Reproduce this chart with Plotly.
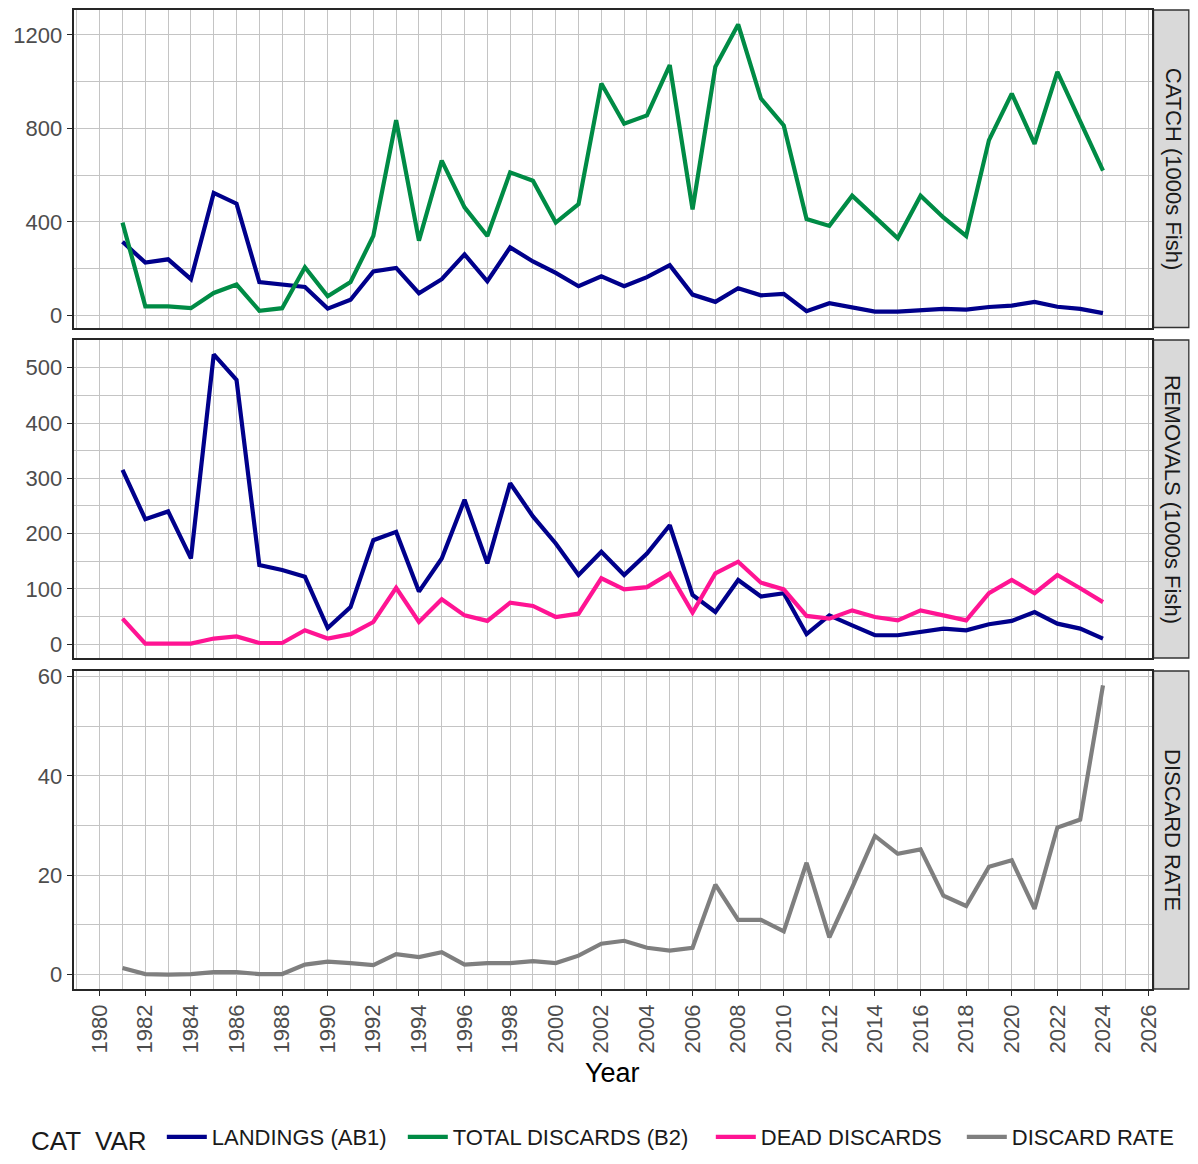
import plotly.graph_objects as go

years = list(range(1981, 2025))

landings = [315, 226, 240, 155, 524, 478, 143, 134, 122, 29, 67, 188, 203,
            95, 155, 261, 146, 291, 231, 182, 125, 167, 125, 164, 215, 89,
            58, 116, 86, 92, 18, 52, 34, 16, 16, 22, 28, 25, 36, 42, 58, 37, 28, 10]

total_discards = [397, 39, 39, 31, 96, 132, 20, 31, 206, 82, 143, 340, 835,
                  320, 662, 462, 340, 612, 576, 397, 476, 992, 820, 856, 1071, 454,
                  1064, 1245, 928, 813, 412, 383, 512, 419, 330, 512, 419, 340, 750,
                  949, 734, 1042, 830, 619]

dead_discards = [46, 1, 1, 1, 10, 14, 2, 2, 25, 10, 18, 40, 102,
                 40, 81, 52, 42, 75, 69, 49, 55, 119, 99, 103, 128, 57,
                 128, 149, 111, 99, 51, 46, 61, 49, 43, 61, 52, 43, 92,
                 116, 92, 125, 101, 76]

discard_rate = [1.3, 0.1, 0.0, 0.1, 0.5, 0.5, 0.1, 0.1, 2.0, 2.6, 2.3, 1.9, 4.1,
                3.5, 4.5, 2.0, 2.3, 2.3, 2.7, 2.3, 3.8, 6.2, 6.8, 5.4, 4.8, 5.4,
                18.1, 11.0, 11.0, 8.7, 22.5, 7.5, 17.5, 27.9, 24.3, 25.2, 15.9, 13.8, 21.7,
                23.0, 13.2, 29.6, 31.2, 58.2]

panel_labels = ["CATCH (1000s Fish)", "REMOVALS (1000s Fish)", "DISCARD RATE"]
series_names = ["LANDINGS (AB1)", "TOTAL DISCARDS (B2)", "DEAD DISCARDS", "DISCARD RATE"]
colors = ["#00008B", "#008B45", "#FF1493", "#7F7F7F"]
legend_widths = [186, 253, 196, None]

OFF = 8  # page body margin
W, H = 1198 - 2 * OFF, 1164 - 2 * OFF
FONT = "Liberation Sans, Arial, sans-serif"


def px(xr):
    return (xr - OFF) / W


def py(yr):
    return 1 - (yr - OFF) / H


fig = go.Figure()


def add(y, k, axis, show):
    fig.add_trace(go.Scatter(
        x=years, y=y, mode="lines", name=series_names[k],
        line=dict(color=colors[k], width=4.2),
        xaxis="x" + axis, yaxis="y" + axis,
        legendgroup=series_names[k], showlegend=show,
        legendwidth=legend_widths[k]))


add(landings, 0, "", True)
add(total_discards, 1, "", True)
add(landings, 0, "2", False)
add(dead_discards, 2, "2", True)
add(discard_rate, 3, "3", True)


def expand(vals):
    lo, hi = min(vals), max(vals)
    d = (hi - lo) * 0.05
    return [lo - d, hi + d]


x_range = expand(years)
ranges = [expand(landings + total_discards), expand(landings + dead_discards), expand(discard_rate)]
dticks = [400, 100, 20]

x0_px, x1_px = 73.5, 1152
panels_px = [(10, 327.5), (340, 658), (671, 989)]

xdom = [px(x0_px), px(x1_px)]
grid = "#C4C4C4"
border = "#262626"
tickfont = dict(family=FONT, size=22, color="#4D4D4D")

layout = dict(
    width=W, height=H,
    margin=dict(l=0, r=0, t=0, b=0, autoexpand=False),
    paper_bgcolor="white", plot_bgcolor="white",
    font=dict(family=FONT),
    showlegend=True,
    legend=dict(orientation="h", x=px(29), y=py(1138), xanchor="left", yanchor="middle",
                font=dict(family=FONT, size=22, color="#1A1A1A"),
                title=dict(text="CAT  VAR ", font=dict(family=FONT, size=26, color="#1A1A1A"),
                           side="left"),
                itemwidth=40, tracegroupgap=0),
)

for i in range(3):
    sfx = "" if i == 0 else str(i + 1)
    t, b = panels_px[i]
    layout["xaxis" + sfx] = dict(
        domain=xdom, range=x_range, anchor="y" + sfx,
        tick0=1980, dtick=2, showgrid=True, gridcolor=grid, gridwidth=1.3,
        minor=dict(dtick=1, tick0=1980, showgrid=True, gridcolor=grid, gridwidth=1.3, ticks=""),
        showline=True, mirror=True, linecolor=border, linewidth=1.6,
        zeroline=False,
        showticklabels=(i == 2),
        ticks="outside" if i == 2 else "", ticklen=5, tickcolor=border, tickwidth=1.3,
        tickangle=-90, tickfont=tickfont,
    )
    layout["yaxis" + sfx] = dict(
        domain=[py(b), py(t)], range=ranges[i], anchor="x" + sfx,
        tick0=0, dtick=dticks[i], showgrid=True, gridcolor=grid, gridwidth=1.3,
        minor=dict(dtick=dticks[i] / 2, tick0=0, showgrid=True, gridcolor=grid, gridwidth=1.3, ticks=""),
        showline=True, mirror=True, linecolor=border, linewidth=1.6,
        zeroline=False,
        ticks="outside", ticklen=5, tickcolor=border, tickwidth=1.3,
        tickfont=tickfont,
    )

fig.update_layout(**layout)

shapes = []
annotations = []
for i in range(3):
    t, b = panels_px[i]
    shapes.append(dict(type="rect", xref="paper", yref="paper",
                       x0=px(1153.5), x1=min(px(1196), 0.999), y0=py(b), y1=py(t),
                       fillcolor="#D9D9D9", line=dict(color="#333333", width=1.3), layer="below"))
    annotations.append(dict(xref="paper", yref="paper", x=px(1173), y=py((t + b) / 2),
                            text=panel_labels[i], textangle=90, showarrow=False,
                            font=dict(family=FONT, size=22, color="#1A1A1A"),
                            xanchor="center", yanchor="middle"))

annotations.append(dict(xref="paper", yref="paper", x=px((x0_px + x1_px) / 2), y=py(1073),
                        text="Year", showarrow=False,
                        font=dict(family=FONT, size=27, color="#000000"),
                        xanchor="center", yanchor="middle"))

fig.update_layout(shapes=shapes, annotations=annotations)

fig.write_html("out.html")
